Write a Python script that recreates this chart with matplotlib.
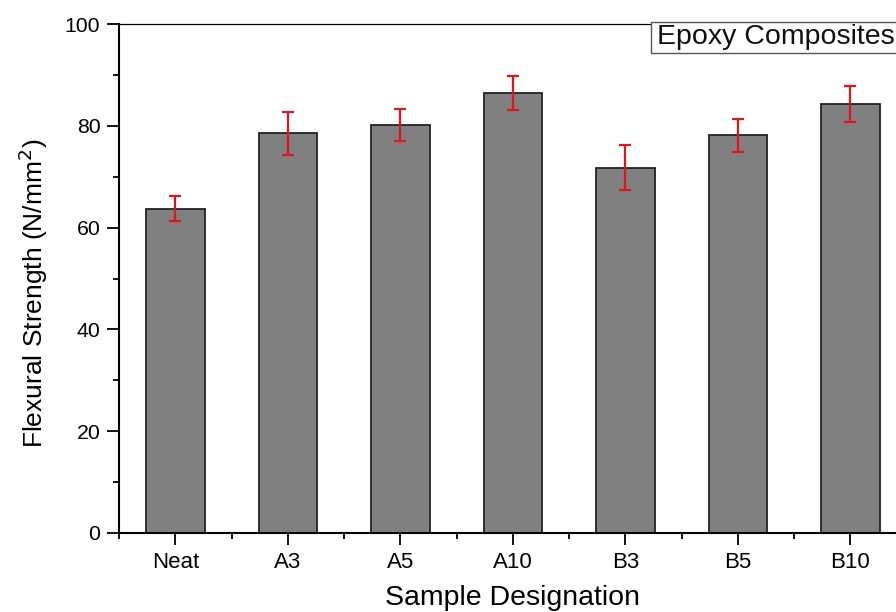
import matplotlib
matplotlib.use("Agg")
import matplotlib.pyplot as plt
from matplotlib.patches import Rectangle
from matplotlib.ticker import MultipleLocator, FixedLocator

# Dados
samples = ["Neat", "A3", "A5", "A10", "B3", "B5", "B10"]
strength = [63.7, 78.5, 80.2, 86.5, 71.8, 78.1, 84.3]
strength_err = [2.5, 4.2, 3.1, 3.3, 4.4, 3.3, 3.6]
legend_label = "Epoxy Composites"

plt.rcParams["font.family"] = ["Liberation Sans", "DejaVu Sans"]

W, H = 896, 612
fig = plt.figure(figsize=(W / 100, H / 100), dpi=100)

# eixo vai um pouco além da borda direita (como no original)
left_px, right_px, top_px, bottom_px = 119, 906.5, 24, 533
ax = fig.add_axes([left_px / W, 1 - bottom_px / H,
                   (right_px - left_px) / W, (bottom_px - top_px) / H])

x = list(range(len(samples)))
ax.bar(x, strength, width=0.52, color="#808080", edgecolor="#222222",
       linewidth=1.3, zorder=2)
ax.errorbar(x, strength, yerr=strength_err, fmt="none", ecolor="#e0151b",
            elinewidth=1.6, capsize=4.6, capthick=1.6, zorder=3)

ax.set_xlim(-0.5, len(samples) - 0.5)
ax.set_ylim(0, 100)
ax.set_xticks(x)
ax.set_xticklabels(samples)
ax.xaxis.set_minor_locator(FixedLocator([i - 0.5 for i in range(len(samples) + 1)]))
ax.yaxis.set_major_locator(MultipleLocator(20))
ax.yaxis.set_minor_locator(MultipleLocator(10))

ax.tick_params(axis="both", which="major", direction="out", length=8.5,
               width=1.3, pad=5)
ax.tick_params(axis="x", which="major", labelsize=16)
ax.tick_params(axis="y", which="major", labelsize=15.3)
ax.tick_params(axis="both", which="minor", direction="out", length=4,
               width=1.3)
ax.tick_params(top=False, right=False, which="both")

for side in ["left", "bottom"]:
    ax.spines[side].set_linewidth(1.5)
ax.spines["top"].set_linewidth(0.9)
ax.spines["right"].set_visible(False)

ax.set_xlabel("Sample Designation", fontsize=20.5, labelpad=9)
ax.set_ylabel("Flexural Strength (N/mm$^2$)", fontsize=19)
ax.yaxis.set_label_coords(-0.087, 0.47)

# caixa da legenda
ax.add_patch(Rectangle((0.6756, 0.943), 0.4, 0.0609, transform=ax.transAxes,
                       facecolor="white", edgecolor="#555555", linewidth=1.0,
                       clip_on=False, zorder=5))
ax.text(0.683, 0.9735, legend_label, transform=ax.transAxes, ha="left",
        va="center", fontsize=20.5, color="#111111", zorder=6)

fig.savefig("out.png", dpi=100)
